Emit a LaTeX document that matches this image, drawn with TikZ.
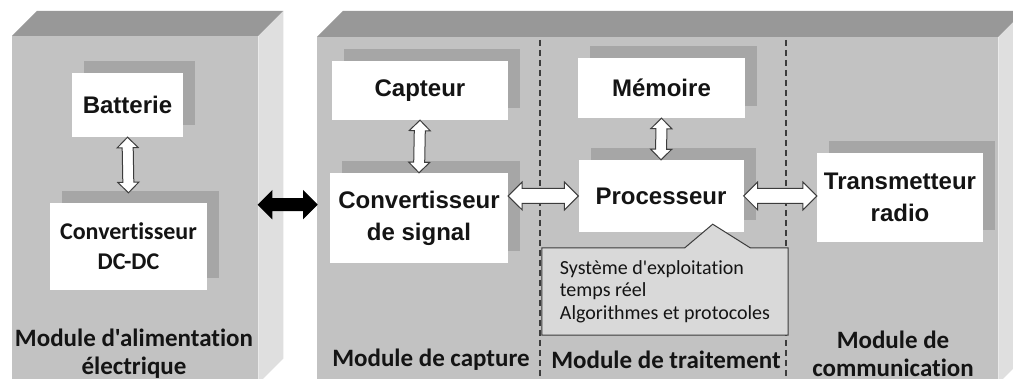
\documentclass[tikz,border=0pt]{standalone}
\usepackage{fontspec}
\setmainfont{Liberation Sans}
\newfontfamily\calfont[Ligatures=NoCommon]{Carlito}
\usetikzlibrary{shapes.arrows,calc,shadows}

\definecolor{facegray}{HTML}{C2C2C2}
\definecolor{topgray}{HTML}{989898}
\definecolor{sidegray}{HTML}{DFDFDF}
\definecolor{shadowgray}{HTML}{A6A6A6}
\definecolor{calloutgray}{HTML}{D9D9D9}
\definecolor{edgegray}{HTML}{3C3C3C}
\definecolor{inkgray}{HTML}{141414}

% hollow or solid double arrow laid between two points
\newcommand\linkarrow[4]{%
  \path let \p1=#3, \p2=#4,
    \n1={veclen(\x2-\x1,\y2-\y1)},
    \n2={atan2(\y2-\y1,\x2-\x1)} in
    node[#1, minimum height=\n1, rotate=\n2] (#2) at ($(\p1)!0.5!(\p2)$) {};}

\begin{document}
\begin{tikzpicture}[x=1pt,y=-1pt,
  frontface/.style={fill=facegray, draw=none, inner sep=0pt, anchor=north west},
  labelbox/.style={fill=white, inner sep=0pt, align=center, text=inkgray,
    font=\fontsize{24}{32}\selectfont\bfseries,
    drop shadow={shadow xshift=12pt, shadow yshift=12pt, fill=shadowgray, opacity=1}},
  modlabel/.style={align=center, text=inkgray, inner sep=0pt,
    font=\calfont\fontsize{25}{28}\selectfont\bfseries},
  divider/.style={draw=edgegray, line width=1.4pt, dash pattern=on 6pt off 4pt},
  hollowv/.style={double arrow, draw=edgegray, fill=white, line width=1pt,
    inner xsep=0pt, inner ysep=5pt, minimum width=0pt,
    double arrow head extend=5pt, double arrow tip angle=90},
  hollowh/.style={hollowv, inner ysep=7pt, double arrow head extend=6.5pt},
  solidarrow/.style={hollowv, fill=black, draw=black,
    inner ysep=5.5pt, double arrow head extend=7.5pt},
]
\useasboundingbox (0,0) rectangle (1013,379);
\clip (0,0) rectangle (1013,379);
\fill[white] (0,0) rectangle (1013,379);

% power supply block
\node[frontface, minimum width=246, minimum height=347] (pwr) at (12,36) {};
\fill[topgray] (pwr.north west) -- ++(25,-25) -- ($(pwr.north east)+(25,-25)$)
  -- (pwr.north east) -- cycle;
\fill[sidegray] (pwr.north east) -- ++(25,-25) -- ($(pwr.south east)+(25,-25)$)
  -- (pwr.south east) -- cycle;

% sensor node block
\node[frontface, minimum width=681, minimum height=346] (mote) at (317,37) {};
\fill[topgray] (mote.north west) -- ++(26,-26) -- ($(mote.north east)+(26,-26)$)
  -- (mote.north east) -- cycle;
\fill[sidegray] (mote.north east) -- ++(26,-26) -- ($(mote.south east)+(26,-26)$)
  -- (mote.south east) -- cycle;

% module separators
\draw[divider] (540,40) -- (540,379);
\draw[divider] (786,40) -- (786,379);

% components
\node[labelbox, minimum width=111, minimum height=64] (bat) at (127.5,105) {Batterie};
\node[labelbox, font=\calfont\fontsize{24}{30}\selectfont\bfseries,
  minimum width=157, minimum height=87] (dcdc) at (128.5,246.5) {Convertisseur\\DC-DC};
\node[labelbox, minimum width=176, minimum height=59] (cap) at (420,90.5) {Capteur};
\node[labelbox, minimum width=178, minimum height=90] (cds) at (419,218) {Convertisseur\\de signal};
\node[labelbox, minimum width=167, minimum height=60] (mem) at (661.5,88) {Mémoire};
\node[labelbox, minimum width=165, minimum height=72] (proc) at (661,196) {Processeur};
\node[labelbox, minimum width=166, minimum height=89] (trx) at (900,197.5) {Transmetteur\\radio};

% links
\linkarrow{hollowv}{abat}{(bat.south)}{($(dcdc.north)+(0,-10)$)}
\linkarrow{hollowv}{acap}{(cap.south)}{(cds.north)}
\linkarrow{hollowv}{amem}{(mem.south)}{(proc.north)}
\linkarrow{hollowh}{acds}{(cds.east |- proc.west)}{(proc.west)}
\linkarrow{hollowh}{atrx}{(proc.east)}{(proc.east -| trx.west)}
\linkarrow{solidarrow}{apwr}{($(pwr.east)+(0,-5)$)}{($(pwr.east -| mote.west)+(0,-5)$)}

% software callout attached to the processor
\node[fill=calloutgray, inner sep=0pt, minimum width=246, minimum height=87]
  (os) at (665,291.5) {};
\coordinate (tip) at ($(proc.south east)+(-31,-8)$);
\draw[draw=edgegray, fill=calloutgray, line width=1pt, line join=miter]
  (os.north west) -- ($(os.north west)+(143,0)$) -- (tip)
  -- ($(os.north east)+(-38,0)$) -- (os.north east) -- (os.south east)
  -- (os.south west) -- cycle;
\node[align=left, text=inkgray, inner sep=0pt, font=\calfont\fontsize{20}{22.5}\selectfont]
  (ostext) at (os.center) {Système d'exploitation\\temps réel\\Algorithmes et protocoles};

% module names
\node[modlabel] (lpwr) at (134,354) {Module d'alimentation\\électrique};
\node[modlabel] (lcap) at (431,360) {Module de capture};
\node[modlabel] (ltrt) at (666,360) {Module de traitement};
\node[modlabel] (lcom) at (893,353.5) {Module de\\communication};
\end{tikzpicture}
\end{document}
